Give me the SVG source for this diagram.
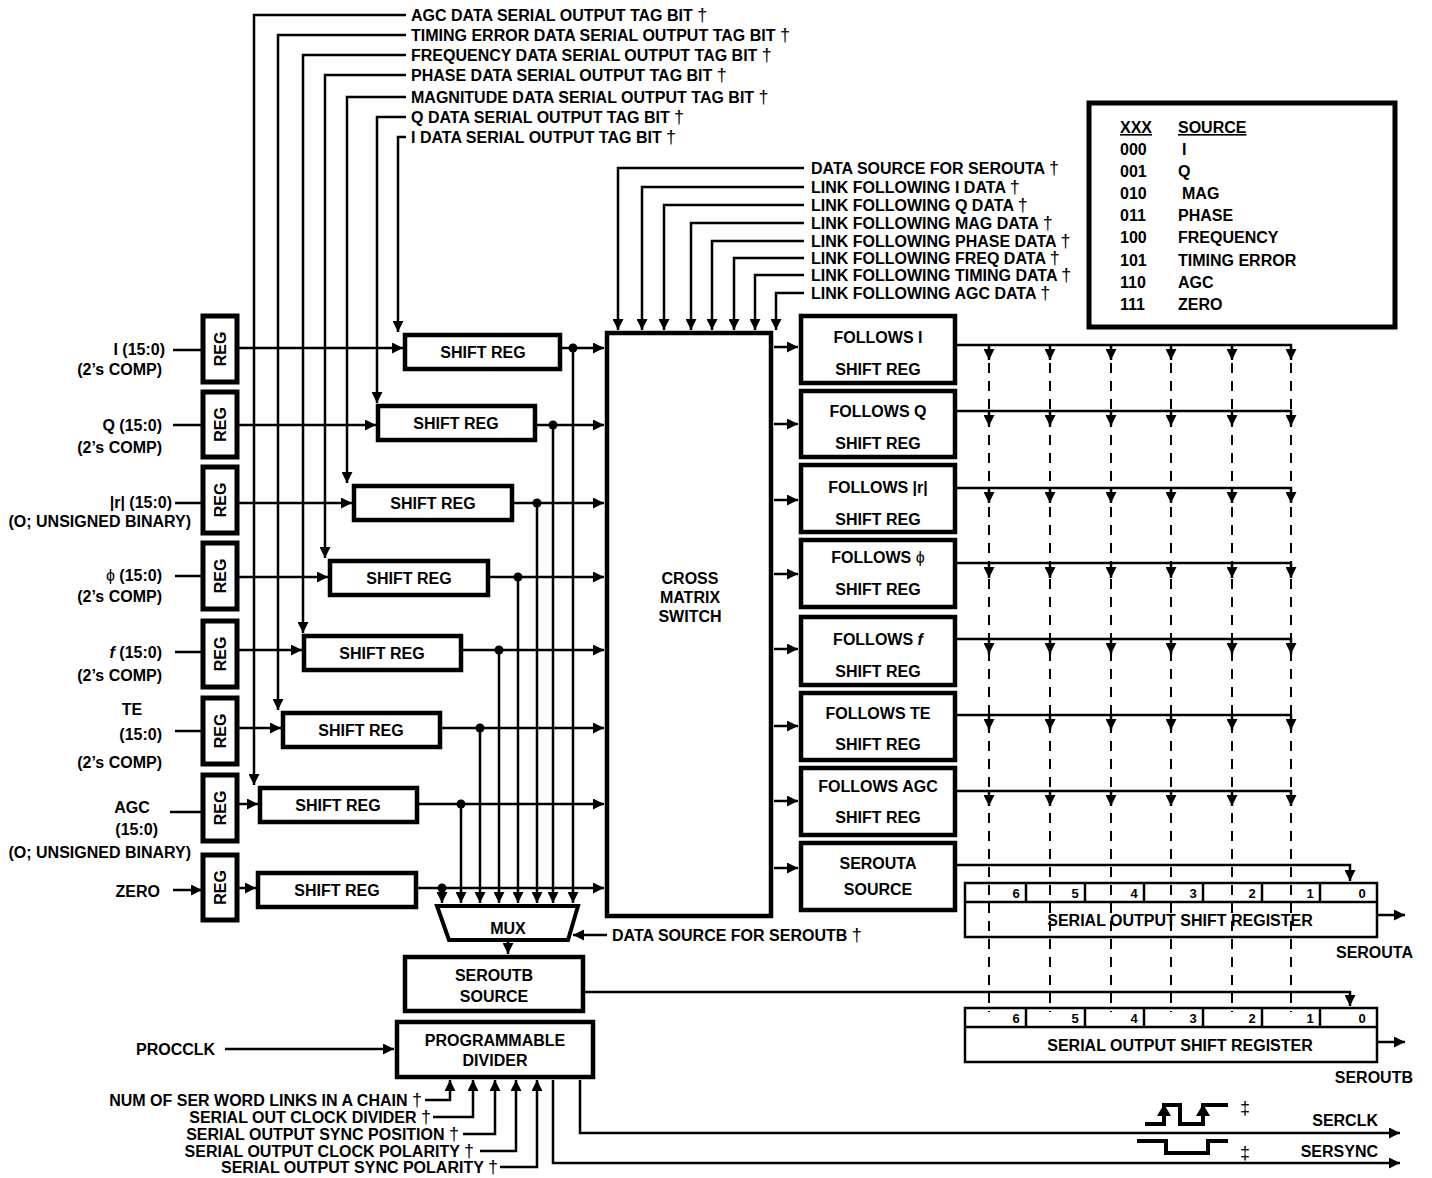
<svg xmlns="http://www.w3.org/2000/svg" width="1432" height="1178" viewBox="0 0 1432 1178">
<defs>
<marker id="ah" viewBox="0 0 10 10" refX="10" refY="5" markerWidth="11" markerHeight="11" markerUnits="userSpaceOnUse" orient="auto"><path d="M0,0L10,5L0,10z" fill="#000"/></marker>
<style>
text{font-family:"Liberation Sans",Arial,Helvetica,sans-serif;font-weight:bold;font-size:16px;fill:#000}
.w{fill:none;stroke:#000;stroke-width:2.5}
.a{marker-end:url(#ah)}
.d{fill:none;stroke:#000;stroke-width:2;stroke-dasharray:10 8}
.b{fill:#fff;stroke:#000;stroke-width:4.5}
.reg{fill:#fff;stroke:#000;stroke-width:5}
.thin{fill:none;stroke:#000;stroke-width:2.5}
.m{text-anchor:middle}
.e{text-anchor:end}
.dg{font-weight:normal}
.dag{font-weight:normal;font-size:18px}
.wave{fill:none;stroke:#000;stroke-width:4}
.bit{font-size:13px}
.u{text-decoration:underline}
</style>
</defs>
<rect width="1432" height="1178" fill="#fff"/>

<!-- input labels -->
<g id="in-i"><text class="e" x="165" y="355">I (15:0)</text><text class="e" x="162" y="375">(2’s COMP)</text></g>
<g id="in-q"><text class="e" x="162" y="431">Q (15:0)</text><text class="e" x="162" y="453">(2’s COMP)</text></g>
<g id="in-r"><text class="e" x="172" y="508">|r| (15:0)</text><text class="e" x="191" y="527">(O; UNSIGNED BINARY)</text></g>
<g id="in-phi"><text class="e" x="162" y="581"><tspan class="dg">ϕ</tspan> (15:0)</text><text class="e" x="162" y="602">(2’s COMP)</text></g>
<g id="in-f"><text class="e" x="162" y="658"><tspan font-style="italic">f</tspan> (15:0)</text><text class="e" x="162" y="681">(2’s COMP)</text></g>
<g id="in-te"><text class="m" x="132" y="715">TE</text><text class="e" x="162" y="740">(15:0)</text><text class="e" x="162" y="768">(2’s COMP)</text></g>
<g id="in-agc"><text class="m" x="132" y="813">AGC</text><text class="e" x="158" y="835">(15:0)</text><text class="e" x="191" y="858">(O; UNSIGNED BINARY)</text></g>
<g id="in-zero"><text class="e" x="160" y="897">ZERO</text></g>

<!-- REG boxes -->
<g id="reg-i"><rect class="reg" x="203" y="316" width="34" height="66"/><text class="m" transform="translate(226,349) rotate(-90)">REG</text></g>
<g id="reg-q"><rect class="reg" x="203" y="392" width="34" height="65"/><text class="m" transform="translate(226,424.5) rotate(-90)">REG</text></g>
<g id="reg-r"><rect class="reg" x="203" y="467" width="34" height="66"/><text class="m" transform="translate(226,500) rotate(-90)">REG</text></g>
<g id="reg-phi"><rect class="reg" x="203" y="543" width="34" height="66"/><text class="m" transform="translate(226,576) rotate(-90)">REG</text></g>
<g id="reg-f"><rect class="reg" x="203" y="621" width="34" height="66"/><text class="m" transform="translate(226,654) rotate(-90)">REG</text></g>
<g id="reg-te"><rect class="reg" x="203" y="698" width="34" height="66"/><text class="m" transform="translate(226,731) rotate(-90)">REG</text></g>
<g id="reg-agc"><rect class="reg" x="203" y="775" width="34" height="66"/><text class="m" transform="translate(226,808) rotate(-90)">REG</text></g>
<g id="reg-zero"><rect class="reg" x="203" y="855" width="34" height="65"/><text class="m" transform="translate(226,887.5) rotate(-90)">REG</text></g>

<!-- shift registers -->
<g id="sr-i"><rect class="b" x="405" y="335" width="155" height="34"/><text class="m" x="483" y="358">SHIFT REG</text></g>
<g id="sr-q"><rect class="b" x="378" y="406" width="157" height="34"/><text class="m" x="456" y="429">SHIFT REG</text></g>
<g id="sr-r"><rect class="b" x="354" y="486" width="158" height="34"/><text class="m" x="433" y="509">SHIFT REG</text></g>
<g id="sr-phi"><rect class="b" x="330" y="561" width="158" height="34"/><text class="m" x="409" y="584">SHIFT REG</text></g>
<g id="sr-f"><rect class="b" x="304" y="636" width="157" height="34"/><text class="m" x="382" y="659">SHIFT REG</text></g>
<g id="sr-te"><rect class="b" x="283" y="713" width="157" height="34"/><text class="m" x="361" y="736">SHIFT REG</text></g>
<g id="sr-agc"><rect class="b" x="260" y="788" width="157" height="34"/><text class="m" x="338" y="811">SHIFT REG</text></g>
<g id="sr-zero"><rect class="b" x="258" y="873" width="158" height="34"/><text class="m" x="337" y="896">SHIFT REG</text></g>

<!-- tag labels -->
<g id="tag-labels">
<text x="411" y="21">AGC DATA SERIAL OUTPUT TAG BIT <tspan class="dag">†</tspan></text>
<text x="411" y="41">TIMING ERROR DATA SERIAL OUTPUT TAG BIT <tspan class="dag">†</tspan></text>
<text x="411" y="61">FREQUENCY DATA SERIAL OUTPUT TAG BIT <tspan class="dag">†</tspan></text>
<text x="411" y="81">PHASE DATA SERIAL OUTPUT TAG BIT <tspan class="dag">†</tspan></text>
<text x="411" y="103">MAGNITUDE DATA SERIAL OUTPUT TAG BIT <tspan class="dag">†</tspan></text>
<text x="411" y="123">Q DATA SERIAL OUTPUT TAG BIT <tspan class="dag">†</tspan></text>
<text x="411" y="143">I DATA SERIAL OUTPUT TAG BIT <tspan class="dag">†</tspan></text>
</g>

<!-- cross matrix switch -->
<g id="cms"><rect class="b" x="607" y="333" width="164" height="583"/><text class="m" x="690" y="584">CROSS</text><text class="m" x="690" y="603">MATRIX</text><text class="m" x="690" y="622">SWITCH</text></g>

<g id="cms-labels">
<text x="811" y="174">DATA SOURCE FOR SEROUTA <tspan class="dag">†</tspan></text>
<text x="811" y="193">LINK FOLLOWING I DATA <tspan class="dag">†</tspan></text>
<text x="811" y="211">LINK FOLLOWING Q DATA <tspan class="dag">†</tspan></text>
<text x="811" y="229">LINK FOLLOWING MAG DATA <tspan class="dag">†</tspan></text>
<text x="811" y="247">LINK FOLLOWING PHASE DATA <tspan class="dag">†</tspan></text>
<text x="811" y="264">LINK FOLLOWING FREQ DATA <tspan class="dag">†</tspan></text>
<text x="811" y="281">LINK FOLLOWING TIMING DATA <tspan class="dag">†</tspan></text>
<text x="811" y="299">LINK FOLLOWING AGC DATA <tspan class="dag">†</tspan></text>
</g>

<!-- follows boxes -->
<g id="fol-i"><rect class="b" x="801" y="316" width="154" height="67"/><text class="m" x="878" y="343">FOLLOWS I</text><text class="m" x="878" y="375">SHIFT REG</text></g>
<g id="fol-q"><rect class="b" x="801" y="391" width="154" height="66"/><text class="m" x="878" y="417">FOLLOWS Q</text><text class="m" x="878" y="449">SHIFT REG</text></g>
<g id="fol-r"><rect class="b" x="801" y="465" width="154" height="67"/><text class="m" x="878" y="493">FOLLOWS |r|</text><text class="m" x="878" y="525">SHIFT REG</text></g>
<g id="fol-phi"><rect class="b" x="801" y="540" width="154" height="67"/><text class="m" x="878" y="563">FOLLOWS <tspan class="dg">ϕ</tspan></text><text class="m" x="878" y="595">SHIFT REG</text></g>
<g id="fol-f"><rect class="b" x="801" y="617" width="154" height="68"/><text class="m" x="878" y="645">FOLLOWS <tspan font-style="italic">f</tspan></text><text class="m" x="878" y="677">SHIFT REG</text></g>
<g id="fol-te"><rect class="b" x="801" y="693" width="154" height="67"/><text class="m" x="878" y="719">FOLLOWS TE</text><text class="m" x="878" y="750">SHIFT REG</text></g>
<g id="fol-agc"><rect class="b" x="801" y="768" width="154" height="67"/><text class="m" x="878" y="792">FOLLOWS AGC</text><text class="m" x="878" y="823">SHIFT REG</text></g>
<g id="serouta-src"><rect class="b" x="801" y="843" width="154" height="67"/><text class="m" x="878" y="869">SEROUTA</text><text class="m" x="878" y="895">SOURCE</text></g>

<!-- table -->
<g id="table"><rect fill="#fff" stroke="#000" stroke-width="5" x="1089" y="103" width="306" height="224"/>
<text class="u" x="1120" y="133">XXX</text><text class="u" x="1178" y="133">SOURCE</text>
<text x="1120" y="155">000</text><text x="1182" y="155">I</text>
<text x="1120" y="177">001</text><text x="1178" y="177">Q</text>
<text x="1120" y="199">010</text><text x="1182" y="199">MAG</text>
<text x="1120" y="221">011</text><text x="1178" y="221">PHASE</text>
<text x="1120" y="243">100</text><text x="1178" y="243">FREQUENCY</text>
<text x="1120" y="266">101</text><text x="1178" y="266">TIMING ERROR</text>
<text x="1120" y="288">110</text><text x="1178" y="288">AGC</text>
<text x="1120" y="310">111</text><text x="1178" y="310">ZERO</text>
</g>

<!-- serial output registers -->
<g id="sreg-a"><rect class="thin" x="965" y="883" width="412" height="54"/><path class="thin" d="M965,902H1377M1026,883V902M1085,883V902M1144,883V902M1203,883V902M1262,883V902M1320,883V902"/>
<text class="m bit" x="1016" y="898">6</text><text class="m bit" x="1075" y="898">5</text><text class="m bit" x="1134" y="898">4</text><text class="m bit" x="1193" y="898">3</text><text class="m bit" x="1252" y="898">2</text><text class="m bit" x="1310" y="898">1</text><text class="m bit" x="1362" y="898">0</text>
<text class="m" x="1180" y="926">SERIAL OUTPUT SHIFT REGISTER</text><text class="e" x="1413" y="958">SEROUTA</text></g>
<g id="sreg-b"><rect class="thin" x="965" y="1008" width="412" height="54"/><path class="thin" d="M965,1027H1377M1026,1008V1027M1085,1008V1027M1144,1008V1027M1203,1008V1027M1262,1008V1027M1320,1008V1027"/>
<text class="m bit" x="1016" y="1023">6</text><text class="m bit" x="1075" y="1023">5</text><text class="m bit" x="1134" y="1023">4</text><text class="m bit" x="1193" y="1023">3</text><text class="m bit" x="1252" y="1023">2</text><text class="m bit" x="1310" y="1023">1</text><text class="m bit" x="1362" y="1023">0</text>
<text class="m" x="1180" y="1051">SERIAL OUTPUT SHIFT REGISTER</text><text class="e" x="1413" y="1083">SEROUTB</text></g>

<!-- mux and bottom -->
<g id="mux"><path fill="#fff" stroke="#000" stroke-width="4" d="M437,906H578L568,940H449Z"/><text class="m" x="508" y="934">MUX</text></g>
<g id="mux-label"><text x="612" y="941">DATA SOURCE FOR SEROUTB <tspan class="dag">†</tspan></text></g>
<g id="seroutb-src"><rect class="b" x="405" y="957" width="178" height="54"/><text class="m" x="494" y="981">SEROUTB</text><text class="m" x="494" y="1002">SOURCE</text></g>
<g id="divider"><rect class="b" x="397" y="1022" width="196" height="55"/><text class="m" x="495" y="1046">PROGRAMMABLE</text><text class="m" x="495" y="1066">DIVIDER</text></g>
<g id="procclk"><text x="136" y="1055">PROCCLK</text></g>
<g id="div-labels">
<text class="e" x="422" y="1106">NUM OF SER WORD LINKS IN A CHAIN <tspan class="dag">†</tspan></text>
<text class="e" x="431" y="1123">SERIAL OUT CLOCK DIVIDER <tspan class="dag">†</tspan></text>
<text class="e" x="459" y="1140">SERIAL OUTPUT SYNC POSITION <tspan class="dag">†</tspan></text>
<text class="e" x="474" y="1157">SERIAL OUTPUT CLOCK POLARITY <tspan class="dag">†</tspan></text>
<text class="e" x="498" y="1173">SERIAL OUTPUT SYNC POLARITY <tspan class="dag">†</tspan></text>
</g>
<g id="serclk"><path class="wave" d="M1145,1124H1164V1105H1180V1124H1203V1105H1228"/><path d="M1157,1116L1164,1104L1171,1116Z M1196,1116L1203,1104L1210,1116Z"/><text class="dag" x="1240" y="1114">‡</text><text class="e" x="1378" y="1126">SERCLK</text></g>
<g id="sersync"><path class="wave" d="M1137,1141H1166V1153H1208V1141H1228"/><text class="dag" x="1240" y="1159">‡</text><text class="e" x="1378" y="1157">SERSYNC</text></g>

<!-- connectors -->
<g id="connectors">
<path class="w a" d="M173,350H202M173,425H202M175,503H202M175,576H202M175,652H202M175,731H202M170,812H202M173,890H202"/>
<path class="w a" d="M237,348H403"/><path class="w a" d="M237,425H376"/><path class="w a" d="M237,503H352"/><path class="w a" d="M237,577H328"/><path class="w a" d="M237,650H302"/><path class="w a" d="M237,728H281"/><path class="w a" d="M237,804H258"/><path class="w a" d="M237,888H256"/>
<path class="w a" d="M562,348H604"/><path class="w a" d="M537,425H604"/><path class="w a" d="M514,503H604"/><path class="w a" d="M490,577H604"/><path class="w a" d="M463,650H604"/><path class="w a" d="M442,728H604"/><path class="w a" d="M419,804H604"/><path class="w a" d="M418,888H604"/>
<path class="w a" d="M573,348V903"/><path class="w a" d="M553,425V903"/><path class="w a" d="M537,503V903"/><path class="w a" d="M518,577V903"/><path class="w a" d="M499,650V903"/><path class="w a" d="M480,728V903"/><path class="w a" d="M461,804V903"/><path class="w a" d="M442,888V903"/>
<g fill="#000"><circle cx="573" cy="348" r="4.5"/><circle cx="553" cy="425" r="4.5"/><circle cx="537" cy="503" r="4.5"/><circle cx="518" cy="577" r="4.5"/><circle cx="499" cy="650" r="4.5"/><circle cx="480" cy="728" r="4.5"/><circle cx="461" cy="804" r="4.5"/><circle cx="442" cy="888" r="4.5"/></g>
<path class="w a" d="M406,137H398V332"/><path class="w a" d="M406,117H377V403"/><path class="w a" d="M406,97H347V483"/><path class="w a" d="M406,75H325V558"/><path class="w a" d="M406,55H303V633"/><path class="w a" d="M406,35H278V710"/><path class="w a" d="M406,15H254V785"/>
<path class="w a" d="M804,168H618V330"/><path class="w a" d="M804,187H642V330"/><path class="w a" d="M804,205H664V330"/><path class="w a" d="M804,223H691V330"/><path class="w a" d="M804,241H712V330"/><path class="w a" d="M804,258H734V330"/><path class="w a" d="M804,275H755V330"/><path class="w a" d="M804,293H776V330"/>
<path class="w a" d="M774,347H798"/><path class="w a" d="M774,424H798"/><path class="w a" d="M774,500H798"/><path class="w a" d="M774,574H798"/><path class="w a" d="M774,649H798"/><path class="w a" d="M774,726H798"/><path class="w a" d="M774,801H798"/><path class="w a" d="M774,868H798"/>
<path class="d" d="M989,345V1012M1050,345V1012M1111,345V1012M1171,345V1012M1232,345V1012M1291,345V1012"/>
<path class="w a" d="M957,345H1291V360"/><path class="w a" d="M989,345V360"/><path class="w a" d="M1050,345V360"/><path class="w a" d="M1111,345V360"/><path class="w a" d="M1171,345V360"/><path class="w a" d="M1232,345V360"/>
<path class="w a" d="M957,411H1291V426"/><path class="w a" d="M989,411V426"/><path class="w a" d="M1050,411V426"/><path class="w a" d="M1111,411V426"/><path class="w a" d="M1171,411V426"/><path class="w a" d="M1232,411V426"/>
<path class="w a" d="M957,488H1291V503"/><path class="w a" d="M989,488V503"/><path class="w a" d="M1050,488V503"/><path class="w a" d="M1111,488V503"/><path class="w a" d="M1171,488V503"/><path class="w a" d="M1232,488V503"/>
<path class="w a" d="M957,563H1291V578"/><path class="w a" d="M989,563V578"/><path class="w a" d="M1050,563V578"/><path class="w a" d="M1111,563V578"/><path class="w a" d="M1171,563V578"/><path class="w a" d="M1232,563V578"/>
<path class="w a" d="M957,639H1291V654"/><path class="w a" d="M989,639V654"/><path class="w a" d="M1050,639V654"/><path class="w a" d="M1111,639V654"/><path class="w a" d="M1171,639V654"/><path class="w a" d="M1232,639V654"/>
<path class="w a" d="M957,715H1291V730"/><path class="w a" d="M989,715V730"/><path class="w a" d="M1050,715V730"/><path class="w a" d="M1111,715V730"/><path class="w a" d="M1171,715V730"/><path class="w a" d="M1232,715V730"/>
<path class="w a" d="M957,791H1291V806"/><path class="w a" d="M989,791V806"/><path class="w a" d="M1050,791V806"/><path class="w a" d="M1111,791V806"/><path class="w a" d="M1171,791V806"/><path class="w a" d="M1232,791V806"/>
<path class="w a" d="M957,865H1350V881"/>
<path class="w a" d="M585,992H1350V1006"/>
<path class="w a" d="M1378,915H1405"/><path class="w a" d="M1378,1042H1405"/>
<path class="w a" d="M607,935H573"/>
<path class="w a" d="M508,942V954"/>
<path class="w a" d="M225,1049H394"/>
<path class="w a" d="M425,1100H450V1080"/><path class="w a" d="M433,1117H473V1080"/><path class="w a" d="M463,1134H495V1080"/><path class="w a" d="M480,1151H516V1080"/><path class="w a" d="M500,1167H537V1080"/>
<path class="w a" d="M580,1080V1133H1400"/><path class="w a" d="M553,1080V1163H1400"/>
</g>
</svg>
